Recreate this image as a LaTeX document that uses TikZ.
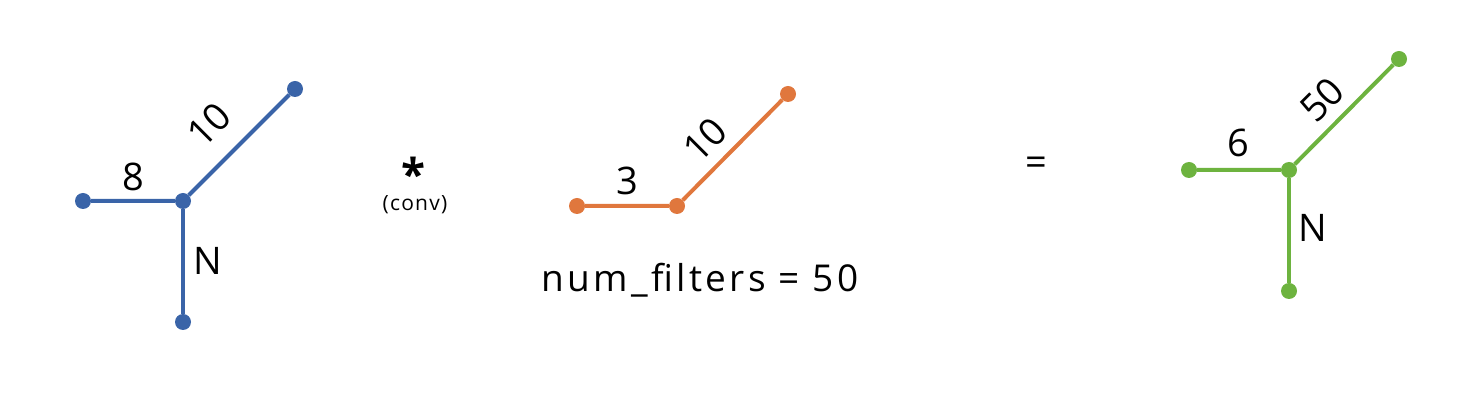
\documentclass[tikz,border=0pt]{standalone}
\usepackage{fontspec}
\setmainfont{Open Sans}
\usepackage{tikz}
\usetikzlibrary{positioning}

\definecolor{tblue}{HTML}{3A64A8}
\definecolor{torange}{HTML}{E0773D}
\definecolor{tgreen}{HTML}{6DB33F}

\begin{document}
\begin{tikzpicture}[
		x=1pt, y=1pt,
		dot/.style={circle, fill, inner sep=0pt, minimum size=16pt},
		edge/.style={line width=4pt},
		lbl/.style={font=\fontsize{38}{44}\selectfont, inner sep=0pt},
		small/.style={font=\fontsize{21}{24}\selectfont\addfontfeature{LetterSpace=6}, inner sep=0pt}
	]
	\useasboundingbox (0,0) rectangle (1465,412);

	% input tensor
	\begin{scope}[tblue]
		\node[dot] (bc) at (183,211) {};
		\node[dot] (bl) at (83,211) {};
		\node[dot] (bd) at (183,90) {};
		\node[dot] (bu) at (295,323) {};
		\draw[edge] (bl) -- (bc) -- (bu);
		\draw[edge] (bc) -- (bd);
	\end{scope}
	\node[lbl] (b8) at (133,235) {8};
	\node[lbl, rotate=45] (b10) at (209,287) {10};
	\node[lbl] (bN) at (208,151) {N};

	% operator
	\node[font=\fontsize{44}{48}\selectfont\bfseries, inner sep=0pt] (star) at (413,238) {*};
	\node[small] (conv) at (415,207) {(conv)};

	% filter
	\begin{scope}[torange]
		\node[dot] (oc) at (677,206) {};
		\node[dot] (ol) at (577,206) {};
		\node[dot] (ou) at (788,318) {};
		\draw[edge] (ol) -- (oc) -- (ou);
	\end{scope}
	\node[lbl] (o3) at (627,231) {3};
	\node[lbl, rotate=45] (o10) at (705,272) {10};
	\node[font=\fontsize{37}{40}\selectfont\addfontfeature{LetterSpace=9}, inner sep=0pt] (nf) at (700,132) {num\_filters = 50};

	\node[lbl] (eq) at (1036,246) {=};

	% output tensor
	\begin{scope}[tgreen]
		\node[dot] (gc) at (1289,242) {};
		\node[dot] (gl) at (1189,242) {};
		\node[dot] (gd) at (1289,121) {};
		\node[dot] (gu) at (1399,353) {};
		\draw[edge] (gl) -- (gc) -- (gu);
		\draw[edge] (gc) -- (gd);
	\end{scope}
	\node[lbl] (g6) at (1238,269) {6};
	\node[lbl, rotate=45] (g50) at (1322,312) {50};
	\node[lbl] (gN) at (1313,184) {N};
\end{tikzpicture}
\end{document}
